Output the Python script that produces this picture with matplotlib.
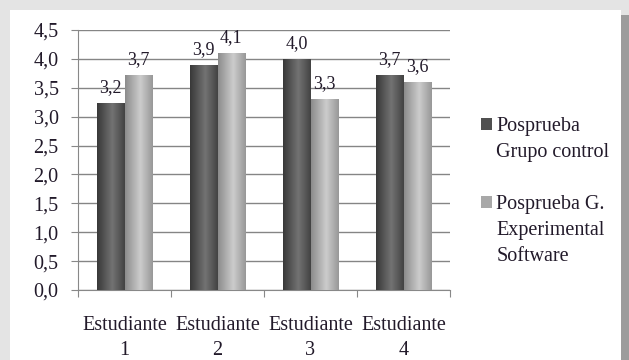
import numpy as np
import matplotlib.pyplot as plt
from matplotlib.patches import Rectangle

students = ["Estudiante\n1", "Estudiante\n2", "Estudiante\n3", "Estudiante\n4"]
control = [3.24, 3.9, 4.0, 3.72]
experimental = [3.72, 4.1, 3.3, 3.6]
series_names = ["Posprueba\nGrupo control", "Posprueba G.\nExperimental\nSoftware"]
y_ticks = [0.0, 0.5, 1.0, 1.5, 2.0, 2.5, 3.0, 3.5, 4.0, 4.5]

plt.rcParams["font.family"] = "serif"
plt.rcParams["font.serif"] = ["Liberation Serif"]
TXT = "#221a2a"
FS = 14.5
FAM = "Liberation Serif"

fig = plt.figure(figsize=(6.29, 3.6), dpi=100)
fig.patch.set_facecolor("#e4e4e4")
# white panel + right shadow strip
fig.add_artist(Rectangle((10 / 629, 0), 611 / 629, 350 / 360, transform=fig.transFigure,
                         facecolor="white", edgecolor="none", zorder=-2))
fig.add_artist(Rectangle((621 / 629, 0), 8 / 629, 345 / 360, transform=fig.transFigure,
                         facecolor="#9c9c9c", edgecolor="none", zorder=-2))

ax = fig.add_axes([78 / 629, 70 / 360, 372 / 629, 260 / 360])
ax.set_facecolor("none")

x = np.arange(len(students))
w = 0.295
b1 = ax.bar(x - w / 2, control, w, color="#505050", label=series_names[0], zorder=3)
b2 = ax.bar(x + w / 2, experimental, w, color="#a8a8a8", label=series_names[1], zorder=3)


def shade(bars, dark, light):
    grad = np.linspace(0, 1, 50)
    prof = np.clip(1 - np.abs(grad - 0.55) * 1.8, 0, 1)
    c0, c1 = np.array(dark), np.array(light)
    img = (c0[None, :] + (c1 - c0)[None, :] * prof[:, None])[None, :, :]
    for bar in bars:
        bx, by = bar.get_x(), bar.get_y()
        bw, bh = bar.get_width(), bar.get_height()
        im = ax.imshow(img, extent=[bx, bx + bw, by, by + bh], aspect="auto", zorder=4)
        im.set_clip_path(bar)


shade(b1, (0.22, 0.22, 0.22), (0.45, 0.45, 0.45))
shade(b2, (0.55, 0.55, 0.55), (0.80, 0.80, 0.80))

for bars in (b1, b2):
    for bar in bars:
        v = bar.get_height()
        ax.annotate(f"{v:.1f}".replace(".", ","), (bar.get_x() + bar.get_width() / 2, v),
                    xytext=(0, 5), textcoords="offset points", ha="center", va="bottom",
                    fontsize=13, family=FAM, color=TXT, zorder=5)

ax.set_xlim(-0.5, len(students) - 0.5)
ax.set_ylim(0, 4.5)
ax.set_yticks(y_ticks)
ax.set_yticklabels([f"{t:.1f}".replace(".", ",") for t in y_ticks], fontsize=FS,
                   family=FAM, color=TXT)
ax.yaxis.grid(True, color="#858585", linewidth=1, zorder=0)
ax.set_axisbelow(True)

ax.set_xticks(np.arange(len(students) + 1) - 0.5)
ax.set_xticklabels([])
ax.set_xticks(x, minor=True)
ax.set_xticklabels(students, minor=True, fontsize=FS, family=FAM, color=TXT, linespacing=1.4)
ax.tick_params(axis="x", which="minor", length=0, pad=19)
ax.tick_params(axis="x", which="major", length=5, color="#888888", direction="out")
ax.tick_params(axis="y", length=5, color="#888888", direction="out", pad=9)

for s in ("top", "right"):
    ax.spines[s].set_visible(False)
for s in ("left", "bottom"):
    ax.spines[s].set_color("#888888")

# legend: marker sits on the first line of each (multi-line) entry, like Excel
blank = Rectangle((0, 0), 1, 1, alpha=0)
handles, labels = [], []
for i, (bars, name) in enumerate(zip((b1, b2), series_names)):
    lines = name.split("\n")
    if i > 0:
        handles.append(blank)
        labels.append(" ")
    handles.append(bars)
    labels.append(lines[0])
    for ln in lines[1:]:
        handles.append(blank)
        labels.append(ln)

leg = fig.legend(handles=handles, labels=labels, loc="upper left",
                 bbox_to_anchor=(463 / 629, 1 - 99 / 360), frameon=False,
                 prop={"family": FAM, "size": FS},
                 handlelength=0.55, handleheight=0.55, handletextpad=0.2, labelspacing=0.35,
                 labelcolor=TXT)

fig.savefig("out.png", dpi=100, facecolor=fig.get_facecolor())
